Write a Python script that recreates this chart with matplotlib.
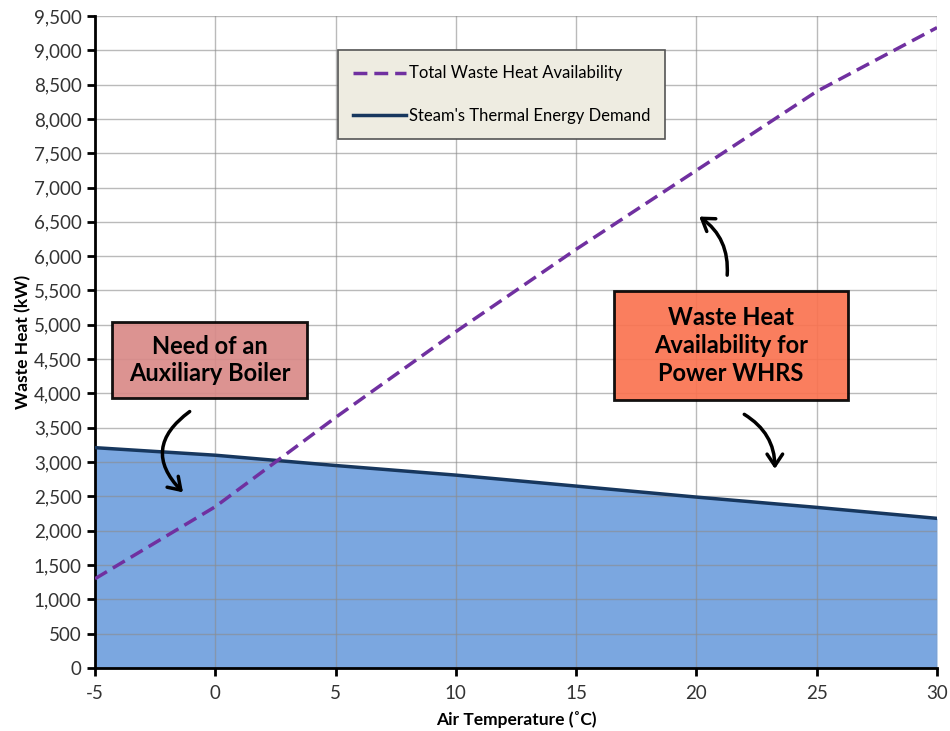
import matplotlib
matplotlib.use("Agg")
import matplotlib.pyplot as plt
from matplotlib.patches import FancyArrowPatch, Rectangle
from matplotlib.ticker import FuncFormatter, MultipleLocator

plt.rcParams['font.family'] = ['Lato', 'DejaVu Sans']
plt.rcParams['axes.unicode_minus'] = False

# Air temperature (°C)
temperature = [-5, 0, 5, 10, 15, 20, 25, 30]
# Total waste heat availability (kW)
waste_heat = [1300, 2350, 3650, 4900, 6100, 7250, 8400, 9330]
# Steam's thermal energy demand (kW)
steam_demand = [3210, 3100, 2950, 2810, 2650, 2490, 2340, 2180]

fig = plt.figure(figsize=(9.5, 7.31), dpi=100)
ax = fig.add_axes([0.1, 0.0862, 0.8863, 0.892])

ax.fill_between(temperature, steam_demand, 0, color='#7BA7E0', zorder=1, linewidth=0)
ax.plot(temperature, steam_demand, color='#17375E', lw=2.5, zorder=3,
        label="Steam's Thermal Energy Demand")
ax.plot(temperature, waste_heat, color='#7030A0', lw=2.5, ls=(0, (4, 2)), zorder=3,
        label='Total Waste Heat Availability')

ax.set_xlim(-5, 30)
ax.set_ylim(0, 9500)
ax.xaxis.set_major_locator(MultipleLocator(5))
ax.yaxis.set_major_locator(MultipleLocator(500))
ax.yaxis.set_major_formatter(FuncFormatter(lambda v, p: f'{int(v):,}'))

ax.set_axisbelow('line')
ax.grid(True, color='#8C8C8C', lw=1, alpha=0.6)
for s in ['top', 'right']:
    ax.spines[s].set_visible(False)
for s in ['left', 'bottom']:
    ax.spines[s].set_linewidth(2)
    ax.spines[s].set_color('black')
ax.tick_params(axis='both', direction='out', length=6, width=2, labelsize=13.5,
               colors='black', labelcolor='#333333')
ax.tick_params(axis='x', pad=6)

ax.set_xlabel('Air Temperature (˚C)', fontsize=12.5, fontweight='bold', labelpad=7)
ax.set_ylabel('Waste Heat (kW)', fontsize=12.5, fontweight='bold', labelpad=2)

handles, labels = ax.get_legend_handles_labels()
leg = ax.legend(handles[::-1], labels[::-1], loc='upper left',
                bbox_to_anchor=(0.2886, 0.947), fontsize=12,
                frameon=True, fancybox=False, framealpha=1,
                facecolor='#EEECE1', edgecolor='#555555',
                handlelength=3.2, handletextpad=0.15, labelspacing=1.6,
                borderpad=0.9, borderaxespad=0)
leg.get_frame().set_linewidth(1.2)
leg.set_zorder(5)

# Callout boxes (axes fraction coordinates)
callouts = [
    ((0.0202, 0.414), 0.2316, 0.1166, '#D98A88', 'Need of an\nAuxiliary Boiler'),
    ((0.6164, 0.411), 0.278, 0.167, '#FA7350', 'Waste Heat\nAvailability for\nPower WHRS'),
]
for (x0, y0), w, h, fc, txt in callouts:
    ax.add_patch(Rectangle((x0, y0), w, h, transform=ax.transAxes, fc=fc, ec='black',
                           lw=2, alpha=0.92, zorder=6))
    ax.text(x0 + w / 2, y0 + h / 2, txt, transform=ax.transAxes, ha='center',
            va='center', fontsize=17, fontweight='bold', linespacing=1.25, zorder=7)

arrow_kw = dict(arrowstyle='->,head_length=0.6,head_width=0.4', color='black',
                lw=2.5, zorder=6, mutation_scale=14)
ax.add_patch(FancyArrowPatch((-0.97, 3760), (-1.26, 2530),
                             connectionstyle='arc3,rad=0.6', **arrow_kw))
ax.add_patch(FancyArrowPatch((21.27, 5683), (20.02, 6600),
                             connectionstyle='arc3,rad=0.3', **arrow_kw))
ax.add_patch(FancyArrowPatch((21.89, 3716), (23.26, 2860),
                             connectionstyle='arc3,rad=-0.3', **arrow_kw))

fig.savefig('out.png', dpi=100)
